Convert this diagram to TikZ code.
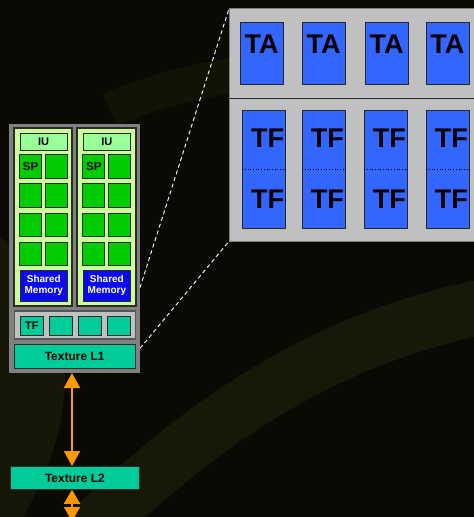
\documentclass[tikz,border=0pt]{standalone}
\usepackage{fontspec}
\setmainfont{Liberation Sans}
\usetikzlibrary{arrows.meta,calc,positioning}

\definecolor{bgdark}{HTML}{0A0A05}
\definecolor{bgolive}{HTML}{1E1E0C}
\definecolor{framegray}{HTML}{808080}
\definecolor{smfill}{HTML}{CCFF99}
\definecolor{iufill}{HTML}{99FF99}
\definecolor{spfill}{HTML}{00CC00}
\definecolor{shfill}{HTML}{0A0AF0}
\definecolor{tealfill}{HTML}{00CC99}
\definecolor{panelgray}{HTML}{C0C0C0}
\definecolor{unitblue}{HTML}{3366FF}
\definecolor{arrorange}{HTML}{FF9900}
\definecolor{edgedark}{HTML}{2A2A2A}

\begin{document}
\begin{tikzpicture}[
  x=1pt, y=-1pt,
  box/.style={rectangle, inner sep=0pt, outer sep=0pt},
  cluster/.style={box, fill=framegray, minimum width=131pt, minimum height=249pt},
  smbox/.style={box, draw=edgedark, line width=1.6pt, fill=smfill,
    minimum width=58.5pt, minimum height=178pt},
  iubox/.style={box, draw=edgedark, line width=1pt, fill=iufill,
    minimum width=47pt, minimum height=17pt, font=\bfseries\fontsize{11}{12}\selectfont},
  spbox/.style={box, draw=edgedark, line width=1pt, fill=spfill,
    minimum width=22pt, minimum height=23.5pt, font=\bfseries\fontsize{11.5}{12}\selectfont},
  shmem/.style={box, draw=edgedark, line width=1pt, fill=shfill, text=white, align=center,
    minimum width=47.5pt, minimum height=31pt, font=\bfseries\fontsize{10}{11.3}\selectfont},
  tfrow/.style={box, draw=edgedark!80, line width=1.2pt, fill=panelgray,
    minimum width=121pt, minimum height=28pt},
  tfcell/.style={box, draw=edgedark, line width=1pt, fill=tealfill,
    minimum width=23.5pt, minimum height=19pt, font=\bfseries\fontsize{11}{12}\selectfont},
  texbox/.style={box, draw=edgedark, line width=1pt, fill=tealfill,
    font=\bfseries\fontsize{12}{13}\selectfont},
  panel/.style={box, draw=framegray, line width=1pt, fill=panelgray,
    minimum width=260pt, minimum height=232.6pt},
  unit/.style={box, draw=black!85, line width=0.9pt, fill=unitblue, minimum width=43.5pt},
  bigtext/.style={box, text height=19.5pt, text depth=0pt, font=\bfseries\fontsize{27}{28}\selectfont},
  zoomline/.style={white, line width=0.9pt, dash pattern=on 4pt off 3pt},
  orangearr/.style={arrorange, line width=2pt}
]

\useasboundingbox (0,0) rectangle (474,517);
\clip (0,0) rectangle (474,517);

% background
\fill[bgdark] (0,0) rectangle (474,517);
\draw[bgolive, line width=70pt, opacity=0.6] (-40,250) .. controls (60,320) and (40,430) .. (-20,520);
\draw[bgolive, line width=55pt, opacity=0.7] (60,560) .. controls (200,420) and (330,330) .. (520,300);
\draw[bgolive, line width=35pt, opacity=0.4] (110,110) .. controls (200,70) and (320,60) .. (480,60);

% SM cluster
\node[cluster] (cluster) at (74.5,248.5) {};
\node[smbox] (smleft) at (43,217) {};
\node[smbox] (smright) at (106.5,217) {};

\node[iubox] (iuleft) at (43.5,141.5) {IU};
\node[iubox] (iuright) at (106.8,141.5) {IU};

% SP grid
\foreach \c/\x in {l/30.5,r/93.8}{
  \node[spbox] (sp\c1a) at (\x,166.4) {SP};
  \node[spbox] (sp\c1b) at (\x+26,166.4) {};
  \foreach \r in {2,3,4}{
    \node[spbox] (sp\c\r a) at (\x,166.4+29.2*\r-29.2) {};
    \node[spbox] (sp\c\r b) at (\x+26,166.4+29.2*\r-29.2) {};
  }
}

\node[shmem] (shleft) at (43.8,285.5) {Shared\\Memory};
\node[shmem] (shright) at (106.9,285.5) {Shared\\Memory};

% texture filters and L1
\node[tfrow] (tfrow) at (74.7,325) {};
\node[tfcell] (tfc1) at (31.8,325.5) {TF};
\foreach \i in {2,3,4}{
  \node[tfcell] (tfc\i) at (31.8+29*\i-29,325.5) {};
}
\node[texbox, minimum width=121pt, minimum height=24pt] (l1) at (74.7,356.7) {Texture L1};

% Texture L2
\node[texbox, minimum width=129.5pt, minimum height=23.7pt] (l2) at (74.9,477.9) {Texture L2};
\coordinate (down) at (72,521);

\draw[orangearr, {Triangle[width=16pt,length=15pt]}-{Triangle[width=16pt,length=15pt]}]
  ([xshift=-2.5pt]cluster.south) -- ([xshift=-2.5pt]cluster.south |- l2.north);
\draw[orangearr, {Triangle[width=16pt,length=14pt]}-{Triangle[width=16pt,length=14pt]}]
  (down |- l2.south) -- (down);

% zoomed texture unit
\node[panel, anchor=north west] (panel) at (229,8.7) {};
\draw[edgedark, line width=1.2pt] (panel.west |- 0,98.7) -- (panel.east |- 0,98.7);

\foreach \i/\x in {1/261.8,2/323.9,3/387,4/447.7}{
  \node[unit, minimum height=61.3pt] (ta\i) at (\x,53.4) {};
  \node[bigtext] (ta\i-t) at (\x-0.3,43.4) {TA};
}
\foreach \i/\x in {1/264,2/323.9,3/385.9,4/447.9}{
  \node[unit, minimum height=118pt] (tf\i) at (\x,169) {};
  \draw[black, dotted, line width=0.7pt] (tf\i.west) -- (tf\i.east);
  \node[bigtext] (tf\i-a) at (\x+3.5,137.6) {TF};
  \node[bigtext] (tf\i-b) at (\x+3.5,198.8) {TF};
}

% zoom lines
\draw[zoomline] ($(cluster.north east)!0.657!(cluster.south east)$) -- (panel.north west);
\draw[zoomline] ($(cluster.north east)!0.901!(cluster.south east)$) -- (panel.south west);

\end{tikzpicture}
\end{document}
